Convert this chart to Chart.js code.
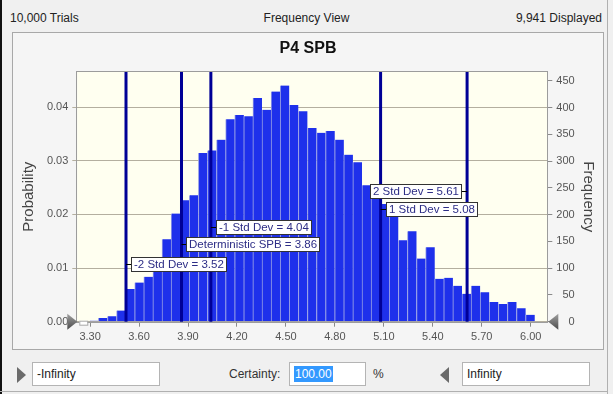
<!DOCTYPE html>
<html>
<head>
<meta charset="utf-8">
<script src="https://cdn.jsdelivr.net/npm/chart.js@4.4.1/dist/chart.umd.min.js"></script>
<style>
body{margin:0;width:613px;height:394px;overflow:hidden;background:#f0f0f0;position:relative;font-family:"Liberation Sans",Arial,sans-serif;font-size:12px;color:#222}
.abs{position:absolute}
.edgeL{left:0;top:0;width:2px;height:394px;background:#111}
.edgeR{left:607px;top:0;width:1px;height:394px;background:#b0b0b0}
.edgeB{left:0;top:391px;width:608px;height:1px;background:#b0b0b0}
#panel{left:12px;top:32px;width:590px;height:316px;border:1px solid #a8a8a8;background:#f5f5f5}
#panel canvas{position:absolute;left:0;top:0}
.box{height:24px;border:1px solid #b4b4b4;background:#fff;line-height:22px;padding-left:4px;box-sizing:border-box}
.triR{width:0;height:0;border-top:8px solid transparent;border-bottom:8px solid transparent;border-left:9px solid #6a6a6a}
.triL{width:0;height:0;border-top:8px solid transparent;border-bottom:8px solid transparent;border-right:9px solid #6a6a6a}
.sel{background:#3399ff;color:#fff;padding:1px 1px}
</style>
</head>
<body>
<div class="abs edgeL"></div>
<div class="abs edgeR"></div>
<div class="abs edgeB"></div>
<div class="abs" style="left:10px;top:11px">10,000 Trials</div>
<div class="abs" style="left:0;width:613px;text-align:center;top:11px">Frequency View</div>
<div class="abs" style="left:480px;width:122px;text-align:right;top:11px">9,941 Displayed</div>
<div id="panel" class="abs"><canvas id="chart" width="590" height="316"></canvas></div>

<div class="abs triR" style="left:17px;top:367px"></div>
<div class="abs box" style="left:32px;top:362px;width:128px">-Infinity</div>
<div class="abs" style="left:229px;top:367px;color:#333">Certainty:</div>
<div class="abs box" style="left:289px;top:362px;width:77px"><span class="sel">100.00</span></div>
<div class="abs" style="left:373px;top:367px;color:#333">%</div>
<div class="abs triL" style="left:440px;top:367px"></div>
<div class="abs box" style="left:462px;top:362px;width:128px">Infinity</div>

<script>
// histogram bins (centres) and counts
const binCenters = [3.3230,3.3787,3.4344,3.4901,3.5458,3.6015,3.6572,3.7129,3.7686,3.8243,
  3.8800,3.9357,3.9914,4.0471,4.1028,4.1585,4.2142,4.2699,4.3256,4.3813,
  4.4370,4.4927,4.5484,4.6041,4.6598,4.7155,4.7712,4.8269,4.8826,4.9383,
  4.9940,5.0497,5.1054,5.1611,5.2168,5.2725,5.3282,5.3839,5.4396,5.4953,
  5.5510,5.6067,5.6624,5.7181,5.7738,5.8295,5.8852,5.9409,5.9966];
const frequency = [2,7,10,21,61,73,84,109,154,202,
  227,236,315,320,340,378,386,384,418,396,
  430,441,405,393,362,353,356,340,312,298,
  255,245,220,196,152,169,118,139,80,82,
  67,52,67,55,37,33,37,25,13];

const xTicks = [3.30,3.60,3.90,4.20,4.50,4.80,5.10,5.40,5.70,6.00];
const probTicks = [0,0.01,0.02,0.03,0.04];
const freqTicks = [0,50,100,150,200,250,300,350,400,450];

const markerValues = [3.52,3.86,4.04,5.08,5.61];
const markerLabels = ['-2 Std Dev = 3.52','Deterministic SPB = 3.86','-1 Std Dev = 4.04','1 Std Dev = 5.08','2 Std Dev = 5.61'];

// where each marker label box sits (frequency units) and on which side of its line
const labelAnchor = [108,144.5,176,211,245];
const labelSide = ['right','right','right','right','left'];

const fam = '"Liberation Sans", Arial, sans-serif';

const decor = {
  id: 'decor',
  beforeDraw(chart) {
    const {ctx, chartArea: a} = chart;
    ctx.save();
    ctx.fillStyle = '#fffff0';
    ctx.fillRect(a.left, a.top, a.width, a.height);
    ctx.restore();
  },
  afterDatasetsDraw(chart) {
    const {ctx, chartArea: a, scales} = chart;
    ctx.save();
    // marker lines
    ctx.strokeStyle = 'rgb(0,0,150)';
    ctx.lineWidth = 3;
    markerValues.forEach(v => {
      const x = scales.x.getPixelForValue(v);
      ctx.beginPath();
      ctx.moveTo(x, a.top);
      ctx.lineTo(x, a.bottom);
      ctx.stroke();
    });
    // labels
    ctx.font = '11.5px ' + fam;
    ctx.textBaseline = 'middle';
    markerValues.forEach((v, i) => {
      const x = scales.x.getPixelForValue(v);
      const y = Math.round(scales.y1.getPixelForValue(labelAnchor[i]));
      const w = Math.round(ctx.measureText(markerLabels[i]).width + 6);
      const h = 15;
      const bx = labelSide[i] === 'right' ? Math.round(x + 5) : Math.round(x - 5 - w);
      ctx.strokeStyle = '#000';
      ctx.lineWidth = 1;
      ctx.beginPath();
      ctx.moveTo(x, y + 0.5);
      ctx.lineTo(labelSide[i] === 'right' ? bx : bx + w, y + 0.5);
      ctx.stroke();
      ctx.fillStyle = '#fff';
      ctx.fillRect(bx, y - 7, w, h);
      ctx.strokeStyle = '#333';
      ctx.strokeRect(bx + 0.5, y - 6.5, w - 1, h - 1);
      ctx.fillStyle = '#2d2d86';
      ctx.fillText(markerLabels[i], bx + 3, y + 1);
    });
    ctx.restore();
  },
  afterDraw(chart) {
    const {ctx, chartArea: a} = chart;
    ctx.save();
    ctx.strokeStyle = '#9c9c9c';
    ctx.lineWidth = 1;
    ctx.strokeRect(Math.round(a.left) - 0.5, Math.round(a.top) - 0.5, Math.round(a.width) + 1, Math.round(a.height) + 1);
    // slider handles
    const yb = a.bottom;
    let g = ctx.createLinearGradient(0, yb - 8, 0, yb + 8);
    g.addColorStop(0, '#a0a0a0');
    g.addColorStop(1, '#4a4a4a');
    ctx.fillStyle = g;
    ctx.beginPath();
    ctx.moveTo(a.left - 10, yb - 8);
    ctx.lineTo(a.left, yb);
    ctx.lineTo(a.left - 10, yb + 8);
    ctx.closePath();
    ctx.fill();
    ctx.beginPath();
    ctx.moveTo(a.right + 11, yb - 8);
    ctx.lineTo(a.right + 1, yb);
    ctx.lineTo(a.right + 11, yb + 8);
    ctx.closePath();
    ctx.fill();
    ctx.fillStyle = '#fff';
    ctx.fillRect(a.left + 2, yb - 1, 8, 4);
    ctx.strokeStyle = '#aaa';
    ctx.strokeRect(a.left + 2.5, yb - 0.5, 8, 4);
    ctx.restore();
  }
};

const tickFont = {size: 11, family: fam};

new Chart(document.getElementById('chart'), {
  type: 'bar',
  data: {
    datasets: [{
      data: binCenters.map((x, i) => ({x: x, y: frequency[i]})),
      yAxisID: 'y1',
      backgroundColor: 'rgb(30,48,235)',
      borderColor: 'rgb(150,158,228)',
      borderWidth: {left: 1, right: 0, top: 0, bottom: 0},
      borderSkipped: false,
      barPercentage: 1,
      categoryPercentage: 1
    }]
  },
  options: {
    responsive: false,
    animation: false,
    layout: {padding: 0},
    plugins: {
      legend: {display: false},
      tooltip: {enabled: false},
      title: {
        display: true,
        text: 'P4 SPB',
        color: '#111',
        font: {size: 16, weight: 'bold', family: fam},
        padding: {top: 6, bottom: 13.5}
      }
    },
    scales: {
      x: {
        type: 'linear',
        min: 3.2216,
        max: 6.1015,
        offset: false,
        afterBuildTicks: s => { s.ticks = xTicks.map(v => ({value: v})); },
        afterFit: s => { s.height = 27.3; },
        ticks: {callback: v => v.toFixed(2), font: tickFont, color: '#555', padding: 4, autoSkip: false, maxRotation: 0},
        grid: {drawOnChartArea: false, offset: false, tickLength: 5, color: '#8a8a8a'},
        border: {display: false}
      },
      y: {
        position: 'left',
        min: 0,
        max: 0.0466,
        afterBuildTicks: s => { s.ticks = probTicks.map(v => ({value: v})); },
        afterFit: s => { s.width = 64.3; },
        ticks: {callback: v => v.toFixed(2), font: tickFont, color: '#555', padding: 4},
        grid: {color: '#b4af9f', tickLength: 5},
        border: {display: false},
        title: {display: true, text: 'Probability', color: '#444', font: {size: 15, family: fam}, padding: {top: 7, bottom: 0}}
      },
      y1: {
        position: 'right',
        min: 0,
        max: 467,
        afterBuildTicks: s => { s.ticks = freqTicks.map(v => ({value: v})); },
        afterFit: s => { s.width = 55.7; },
        // right-align the numbers using digit-wide figure spaces
        ticks: {callback: v => String(v).padStart(3, '\u2007'), font: tickFont, color: '#555', padding: 4, crossAlign: 'near'},
        grid: {drawOnChartArea: false, tickLength: 5, color: '#8a8a8a'},
        border: {display: false},
        title: {display: true, text: 'Frequency', color: '#444', font: {size: 15, family: fam}, padding: {top: 6, bottom: 0}}
      }
    }
  },
  plugins: [decor]
});
</script>
</body>
</html>
